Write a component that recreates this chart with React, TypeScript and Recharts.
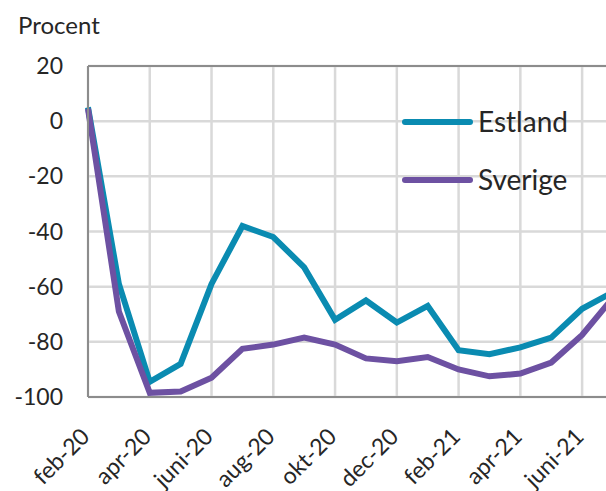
import { LineChart, Line, XAxis, YAxis, CartesianGrid, ReferenceLine, Legend } from 'recharts';

const months = ['feb-20', 'mar-20', 'apr-20', 'maj-20', 'juni-20', 'juli-20', 'aug-20', 'sep-20', 'okt-20', 'nov-20', 'dec-20', 'jan-21', 'feb-21', 'mar-21', 'apr-21', 'maj-21', 'juni-21', 'juli-21'];
const estland = [5, -59, -94.5, -88, -59, -38, -42, -53, -72, -65, -73, -67, -83, -84.5, -82, -78.5, -68, -62];
const sverige = [4.5, -69, -98.5, -98, -93, -82.5, -81, -78.5, -81, -86, -87, -85.5, -90, -92.5, -91.5, -87.5, -77.5, -64];
const yTicks = [-100, -80, -60, -40, -20, 0, 20];

const data = months.map((m, i) => ({ i, month: m, Estland: estland[i], Sverige: sverige[i] }));
const xTicks = months.map((_, i) => i).filter(i => i % 2 === 0);

const FONT = 'Lato, "Liberation Sans", sans-serif';
const TEXT = '#262626';

const XTick = ({ x, y, payload }: any) => {
  const ax = x + 3;
  const ay = y + 33;
  return (
    <text x={ax} y={ay} transform={`rotate(-45, ${ax}, ${ay})`} textAnchor="end" fontSize={23} fill={TEXT} fontFamily={FONT}>
      {months[payload.value]}
    </text>
  );
};

const renderLegend = ({ payload }: any) => (
  <svg width={200} height={100}>
    {(payload || []).map((entry: any, idx: number) => (
      <g key={entry.value} transform={`translate(0, ${idx * 58})`}>
        <line x1={8} y1={22} x2={73} y2={22} stroke={entry.color} strokeWidth={6} strokeLinecap="round" />
        <text x={81} y={32} fontSize={28} fill={TEXT} fontFamily={FONT}>{entry.value}</text>
      </g>
    ))}
  </svg>
);

export default function App() {
  return (
    <div style={{ position: 'absolute', left: 0, top: 0, width: 606, height: 491, overflow: 'hidden', background: '#fff', fontFamily: FONT }}>
      <div style={{ position: 'absolute', left: 18, top: 13, fontSize: 24, lineHeight: '24px', color: TEXT }}>Procent</div>
      <LineChart width={613} height={491} data={data} margin={{ top: 66, right: 0, bottom: 0, left: 0 }}>
        <CartesianGrid stroke="#d9d9d9" strokeWidth={2.5} />
        <XAxis
          type="number"
          dataKey="i"
          domain={[0, 17]}
          ticks={xTicks}
          interval={0}
          height={94}
          tickLine={false}
          axisLine={{ stroke: '#8c8c8c', strokeWidth: 2 }}
          tick={<XTick />}
        />
        <YAxis
          domain={[-100, 20]}
          ticks={yTicks}
          interval={0}
          width={88}
          tickLine={false}
          tickMargin={19}
          axisLine={{ stroke: '#8c8c8c', strokeWidth: 2 }}
          tick={{ fontSize: 23, fill: TEXT, fontFamily: FONT }}
        />
        <ReferenceLine y={20} stroke="#8c8c8c" strokeWidth={2} />
        <Legend
          layout="vertical"
          align="center"
          verticalAlign="middle"
          content={renderLegend}
          wrapperStyle={{ left: 397, top: 100, width: 200, height: 100 }}
        />
        <Line type="linear" dataKey="Estland" stroke="#0a8bb1" strokeWidth={6} dot={false} isAnimationActive={false} />
        <Line type="linear" dataKey="Sverige" stroke="#6d51a2" strokeWidth={6} dot={false} isAnimationActive={false} />
      </LineChart>
    </div>
  );
}
